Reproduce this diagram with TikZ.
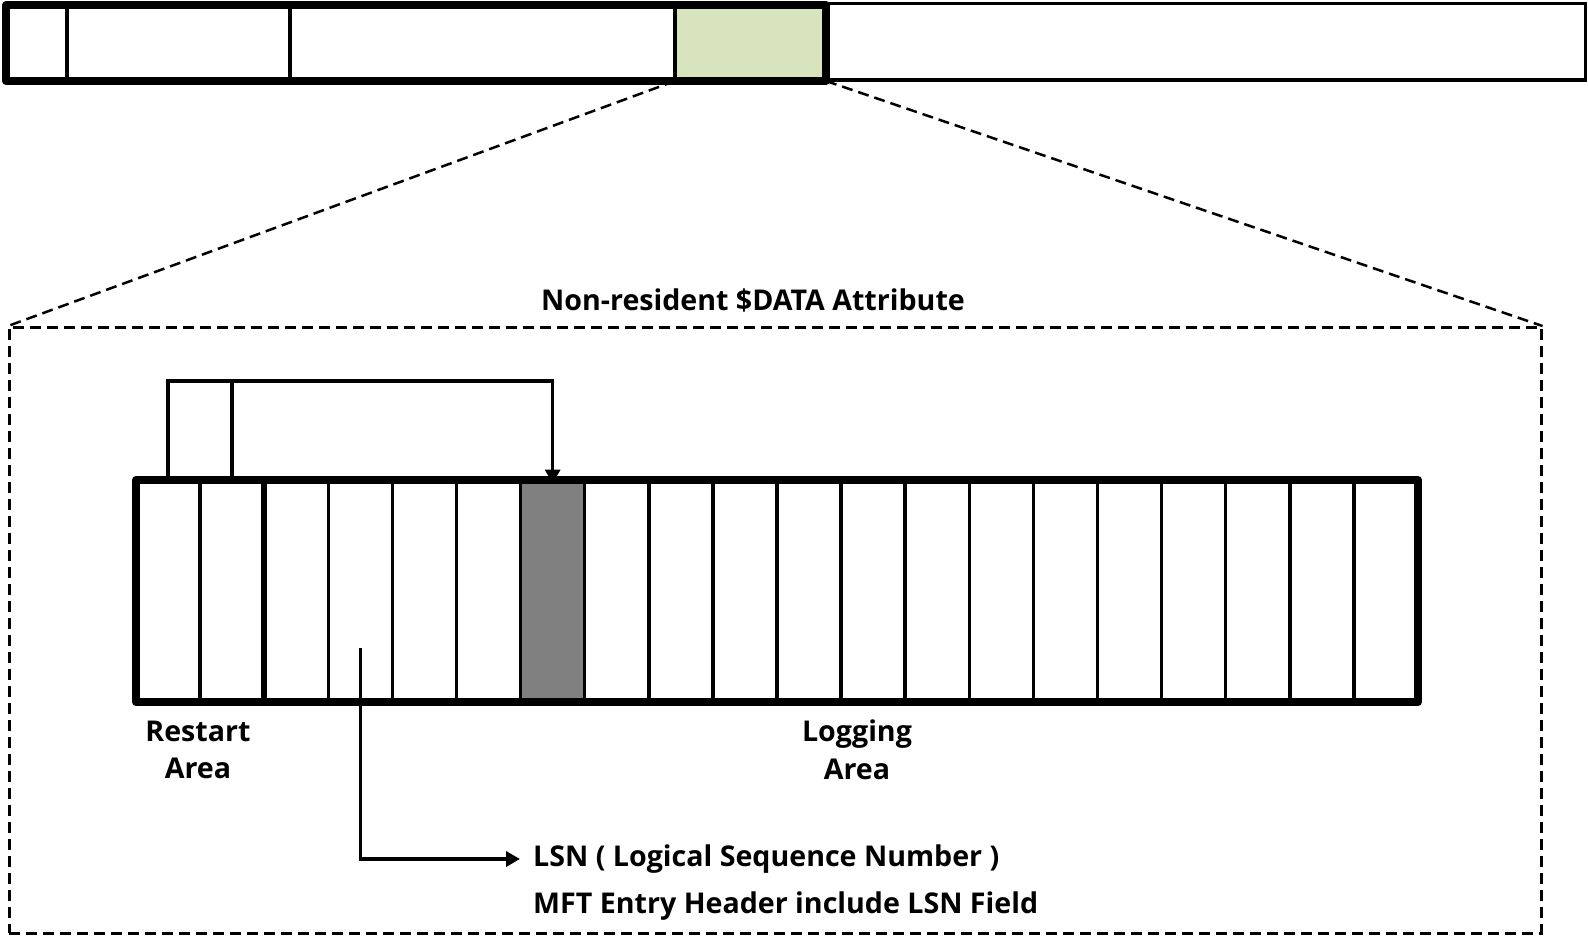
\documentclass[tikz,border=0pt]{standalone}
\usepackage{fontspec}
\setmainfont{Open Sans}
\usetikzlibrary{arrows.meta}
\definecolor{lightgreen}{HTML}{D7E4BD}
\definecolor{midgray}{HTML}{808080}
\begin{document}
\begin{tikzpicture}[x=1pt,y=-1pt,
  tcell/.style={draw,line width=3.5pt,minimum height=76pt,inner sep=0pt,outer sep=0pt,anchor=north west},
  cell/.style={draw,line width=3.5pt,minimum width=64.1pt,minimum height=222pt,inner sep=0pt,outer sep=0pt,anchor=north west},
  thickline/.style={line width=8pt,line join=round},
  dashline/.style={line width=2.5pt,dash pattern=on 11pt off 6pt},
  conn/.style={line width=3.5pt},
  arrowtip/.style={-{Triangle[width=15pt,length=14pt]}},
  lbl/.style={font=\bfseries\fontsize{28.6}{37.5}\selectfont,align=center,inner sep=0pt}]
\useasboundingbox (0,0) rectangle (1588,938);
% top bar
\node[tcell,minimum width=759.5pt,minimum height=76.5pt] (t4) at (826,3.5) {};
\node[tcell,minimum width=61pt] (t0) at (6,5) {};
\node[tcell,minimum width=223pt] (t1) at (67,5) {};
\node[tcell,minimum width=385pt] (t2) at (290,5) {};
\node[tcell,minimum width=151pt,fill=lightgreen] (t3) at (675,5) {};
\draw[thickline] (t0.north west) rectangle (t3.south east);
% dashed attribute box
\node[draw,dashline,minimum width=1532pt,minimum height=606pt,inner sep=0pt,anchor=north west] (attr) at (8,326) {};
\draw[dashline] (t3.south west) -- (attr.north west);
\draw[dashline] (t3.south east) -- (attr.north east);
\node[lbl] (title) at (753,300) {Non-resident \$DATA Attribute};
% log file cells
\foreach \i in {0,...,19}
  \node[cell] (c\i) at ({136+64.1*\i},480) {};
\node[cell,fill=midgray] at (c6.north west) {};
\draw[thickline] (c0.north west) rectangle (c19.south east);
\draw[line width=6pt] (c1.north east) -- (c1.south east);
% restart-area pointers
\coordinate (topy) at (0,381);
\draw[conn,arrowtip] (c0.north) -- (c0.north |- topy) -| ([yshift=-3.5pt]c6.north);
\draw[conn] (c1.north) -- (c1.north |- topy);
% labels
\node[lbl] (restart) at (198,750) {Restart\\Area};
\node[lbl] (logging) at (857,750) {Logging\\Area};
% LSN pointer
\node[lbl,anchor=west] (lsn) at (533,859) {LSN ( Logical Sequence Number )};
\node[lbl,anchor=west] (mft) at (533,906) {MFT Entry Header include LSN Field};
\coordinate (lsnstart) at (c3.center |- 0,648);
\draw[conn,arrowtip] (lsnstart) |- ([xshift=-13pt]lsn.west);
\end{tikzpicture}
\end{document}
